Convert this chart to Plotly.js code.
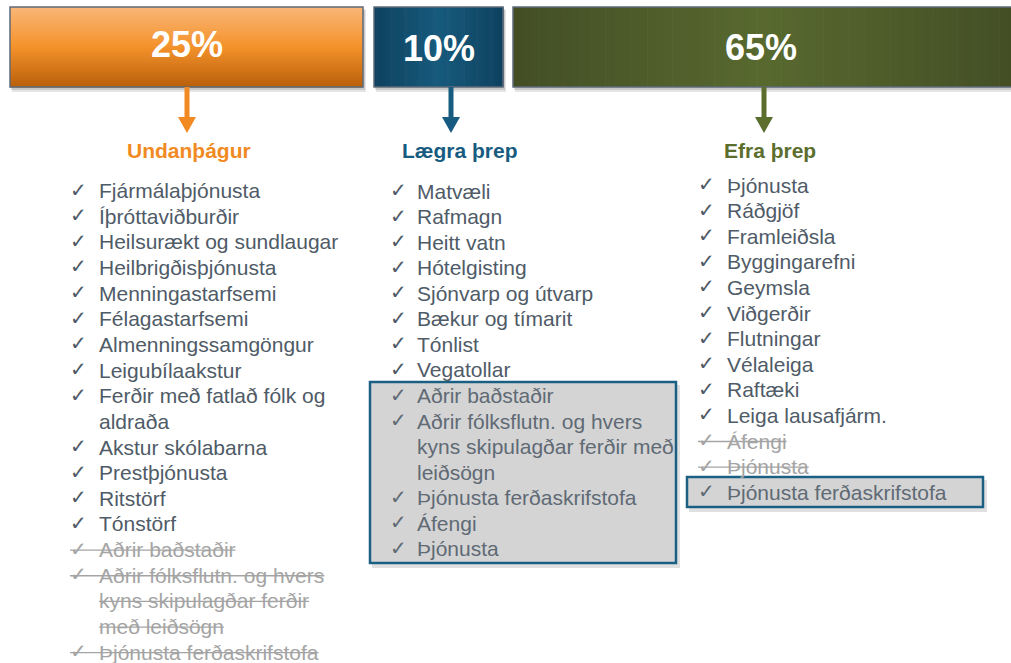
<!DOCTYPE html>
<html>
<head>
<meta charset="utf-8">
<script src="https://cdn.plot.ly/plotly-3.0.1.min.js"></script>
<style>html,body{margin:0;padding:0;background:#fff;}#chart{width:1011px;height:663px;}</style>
</head>
<body>
<div id="chart"></div>
<script>
// ---------- DATA ----------
const percents = [25, 10, 65];
const groupNames = ["Undanþágur", "Lægra þrep", "Efra þrep"];

// "|" marks a line wrap inside one item
const undanthagurItems = [
  "Fjármálaþjónusta", "Íþróttaviðburðir", "Heilsurækt og sundlaugar", "Heilbrigðisþjónusta",
  "Menningastarfsemi", "Félagastarfsemi", "Almenningssamgöngur", "Leigubílaakstur",
  "Ferðir með fatlað fólk og|aldraða", "Akstur skólabarna", "Prestþjónusta", "Ritstörf", "Tónstörf",
  "Aðrir baðstaðir", "Aðrir fólksflutn. og hvers|kyns skipulagðar ferðir|með leiðsögn", "Þjónusta ferðaskrifstofa"
];
const undanthagurStatus = ["ok","ok","ok","ok","ok","ok","ok","ok","ok","ok","ok","ok","ok","struck","struck","struck"];

const laegraItems = [
  "Matvæli", "Rafmagn", "Heitt vatn", "Hótelgisting", "Sjónvarp og útvarp", "Bækur og tímarit",
  "Tónlist", "Vegatollar", "Aðrir baðstaðir", "Aðrir fólksflutn. og hvers|kyns skipulagðar ferðir með|leiðsögn",
  "Þjónusta ferðaskrifstofa", "Áfengi", "Þjónusta"
];
const laegraStatus = ["ok","ok","ok","ok","ok","ok","ok","ok","moved","moved","moved","moved","moved"];

const efraItems = [
  "Þjónusta", "Ráðgjöf", "Framleiðsla", "Byggingarefni", "Geymsla", "Viðgerðir", "Flutningar",
  "Vélaleiga", "Raftæki", "Leiga lausafjárm.", "Áfengi", "Þjónusta", "Þjónusta ferðaskrifstofa"
];
const efraStatus = ["ok","ok","ok","ok","ok","ok","ok","ok","ok","ok","struck","struck","moved"];

// ---------- LAYOUT / STYLE ----------
const FONT = "Liberation Sans, Arial, sans-serif";
const columns = [
  { items: undanthagurItems, status: undanthagurStatus,
    box: [10, 363], arrowX: 187, headX: 189, color: "#f18a22", pctY: 44,
    grad: { dir: "v", stops: ["#f9b778", "#f4922b", "#b95f0b"] },
    checkX: 68, textX: 97, startY: 190.5, step: 25.65 },
  { items: laegraItems, status: laegraStatus,
    box: [374, 503], arrowX: 451, headX: 460, color: "#175b80", pctY: 48,
    grad: { dir: "h", stops: ["#0e4160", "#175a7c", "#0e4160"] },
    checkX: 388, textX: 415, startY: 191, step: 25.57,
    hl: [370, 676, 382, 563] },
  { items: efraItems, status: efraStatus,
    box: [513, 1016], arrowX: 764, headX: 770, color: "#5b6e2e", pctY: 47,
    grad: { dir: "h", stops: ["#434e25", "#58692f", "#434e25"] },
    checkX: 696, textX: 725, startY: 185, step: 25.6,
    hl: [687, 983, 477, 507] }
];
const BOX_Y = [7, 87];

function hex2rgb(h){ return [1,3,5].map(i=>parseInt(h.substr(i,2),16)); }
function mix(a,b,t){ const A=hex2rgb(a),B=hex2rgb(b); return "rgb("+A.map((v,i)=>Math.round(v+(B[i]-v)*t)).join(",")+")"; }
function grad3(stops,t){ return t<0.5 ? mix(stops[0],stops[1],t*2) : mix(stops[1],stops[2],(t-0.5)*2); }

const canvas = document.createElement("canvas");
const ctx = canvas.getContext("2d");
ctx.font = "21px 'Liberation Sans', Arial";

const shapes = [];
const annotations = [];

columns.forEach((c, ci) => {
  const [x0, x1] = c.box, [y0, y1] = BOX_Y;
  // shadow
  shapes.push({type:"rect", xref:"x", yref:"y", x0:x0+2, x1:x1+3, y0:y0+3, y1:y1+5, fillcolor:"rgba(0,0,0,0.10)", line:{width:0}, layer:"below"});
  shapes.push({type:"rect", xref:"x", yref:"y", x0:x0+1, x1:x1+2, y0:y0+2, y1:y1+3, fillcolor:"rgba(0,0,0,0.12)", line:{width:0}, layer:"below"});
  // gradient strips
  const N = 60;
  for (let i = 0; i < N; i++) {
    const t = (i + 0.5) / N;
    if (c.grad.dir === "v") {
      const ya = y0 + (y1 - y0) * i / N, yb = y0 + (y1 - y0) * (i + 1) / N + 0.6;
      shapes.push({type:"rect", x0:x0, x1:x1, y0:ya, y1:yb, fillcolor:grad3(c.grad.stops,t), line:{width:0}, layer:"below"});
    } else {
      const xa = x0 + (x1 - x0) * i / N, xb = x0 + (x1 - x0) * (i + 1) / N + 0.6;
      shapes.push({type:"rect", x0:xa, x1:xb, y0:y0, y1:y1, fillcolor:grad3(c.grad.stops,t), line:{width:0}, layer:"below"});
    }
  }
  // border
  shapes.push({type:"rect", x0:x0, x1:x1, y0:y0, y1:y1, fillcolor:"rgba(0,0,0,0)", line:{color:"#5d6a78", width:1.5}});
  // percent label
  annotations.push({x:(x0 + Math.min(x1, 1011)) / 2 - (ci===2?1:0), y:c.pctY, text:"<b>" + percents[ci] + "%</b>",
    showarrow:false, font:{family:FONT, size:36, color:"#ffffff"}, xanchor:"center", yanchor:"middle"});
  // arrow
  shapes.push({type:"line", x0:c.arrowX, x1:c.arrowX, y0:y1, y1:119, line:{color:c.color, width:5}});
  shapes.push({type:"path", path:`M ${c.arrowX-9} 117 L ${c.arrowX+9} 117 L ${c.arrowX} 133 Z`, fillcolor:c.color, line:{width:0}});
  // header
  annotations.push({x:c.headX, y:150, text:"<b>" + groupNames[ci] + "</b>", showarrow:false,
    font:{family:FONT, size:21, color:c.color}, xanchor:"center", yanchor:"middle"});
  // highlight box
  if (c.hl) {
    const [hx0, hx1, hy0, hy1] = c.hl;
    shapes.push({type:"rect", x0:hx0+2, x1:hx1+4, y0:hy0+3, y1:hy1+5, fillcolor:"rgba(0,0,0,0.12)", line:{width:0}, layer:"below"});
    shapes.push({type:"rect", x0:hx0, x1:hx1, y0:hy0, y1:hy1, fillcolor:"#d4d4d4", line:{color:"#1b5f82", width:2.5}, layer:"below"});
  }
  // list
  let line = 0;
  c.items.forEach((item, ii) => {
    const st = c.status[ii];
    const struck = st === "struck";
    const col = struck ? "#a4a4a4" : (st === "moved" ? "#5f6a75" : "#4f5b67");
    const parts = item.split("|");
    const yFirst = c.startY + line * c.step;
    annotations.push({x:c.checkX, y:yFirst - 1, text:"✓", showarrow:false,
      font:{family:"DejaVu Sans", size:20, color:col}, xanchor:"left", yanchor:"middle"});
    parts.forEach((p, pi) => {
      const y = c.startY + line * c.step;
      annotations.push({x:c.textX, y:y, text:p, showarrow:false,
        font:{family:FONT, size:21, color:col}, xanchor:"left", yanchor:"middle"});
      if (struck) {
        const w = ctx.measureText(p).width;
        const xs = pi === 0 ? c.checkX + 2 : c.textX + 2;
        shapes.push({type:"line", x0:xs, x1:c.textX + 2 + w, y0:y + 0.5, y1:y + 0.5, line:{color:"#a4a4a4", width:1.3}});
      }
      line++;
    });
  });
});

const layout = {
  width: 1011, height: 663,
  margin: {l:0, r:0, t:0, b:0},
  paper_bgcolor: "#ffffff", plot_bgcolor: "#ffffff",
  xaxis: {range:[0,1011], visible:false, fixedrange:true},
  yaxis: {range:[663,0], visible:false, fixedrange:true},
  showlegend: false,
  shapes: shapes,
  annotations: annotations
};
Plotly.newPlot("chart", [], layout, {displayModeBar:false, staticPlot:true});
</script>
</body>
</html>
